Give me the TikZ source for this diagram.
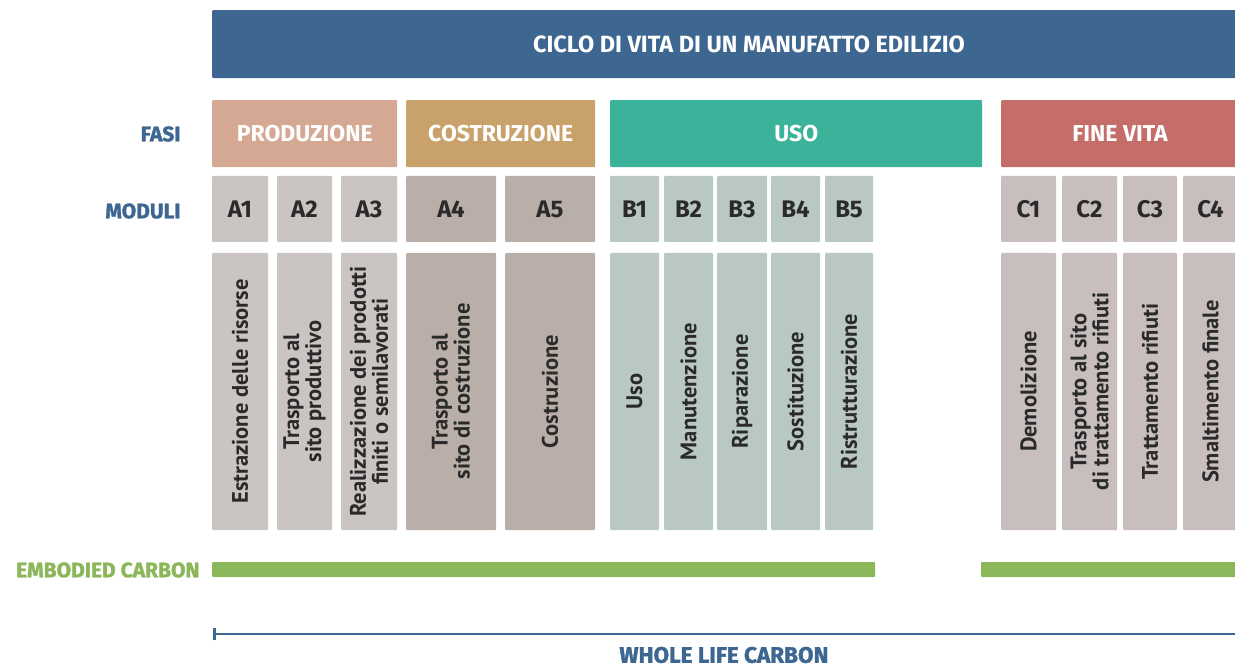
\documentclass[tikz,border=0pt]{standalone}
\usepackage{fontspec}
\usetikzlibrary{arrows.meta}
\setmainfont{PT Sans}
\newfontfamily\headfont{Fira Sans}
\newfontfamily\heavyfont{Fira Sans}[BoldFeatures={FakeBold=1.5}]
\definecolor{titleblue}{HTML}{3D6791}
\definecolor{prodcol}{HTML}{D5A893}
\definecolor{costrcol}{HTML}{C9A16B}
\definecolor{usocol}{HTML}{3AB39A}
\definecolor{finecol}{HTML}{C56E69}
\definecolor{modA}{HTML}{CAC5C3}
\definecolor{modAA}{HTML}{BAAFA8}
\definecolor{modB}{HTML}{B9C7C5}
\definecolor{modC}{HTML}{C8BEBE}
\definecolor{embgreen}{HTML}{8CB65A}
\definecolor{deftext}{HTML}{2A2A2A}
\tikzset{
  phasebox/.style={anchor=north west, minimum height=67pt, inner sep=0pt,
    rounded corners=1pt, text=white, font=\headfont\bfseries\fontsize{23}{23}\selectfont},
  modbox/.style={minimum height=66pt, inner sep=0pt, rounded corners=1pt,
    text=deftext, font=\headfont\bfseries\fontsize{24}{24}\selectfont},
  descbox/.style={rotate=90, minimum width=277pt, inner sep=0pt, rounded corners=1pt,
    align=center, text=deftext, font=\bfseries\fontsize{22.5}{22}\selectfont},
  rowlabel/.style={anchor=east, text=titleblue, font=\heavyfont\bfseries\fontsize{21}{21}\selectfont},
}
\begin{document}
\begin{tikzpicture}[x=1pt,y=-1pt]
  \useasboundingbox[fill=white] (0,0) rectangle (1235,668);
  % title
  \node[anchor=north west, fill=titleblue, minimum width=1030pt, minimum height=68pt,
    inner sep=0pt, rounded corners=1pt] (title) at (212,10) {};
  \node[text=white, font=\headfont\bfseries\fontsize{23.5}{23.5}\selectfont] (titletxt) at (749,44)
    {CICLO DI VITA DI UN MANUFATTO EDILIZIO};
  % phases
  \node[rowlabel] (fasi) at (184,134) {FASI};
  \node[phasebox, fill=prodcol, minimum width=185pt] (produzione) at (212,100) {PRODUZIONE};
  \node[phasebox, fill=costrcol, minimum width=189pt] (costruzione) at (406,100) {COSTRUZIONE};
  \node[phasebox, fill=usocol, minimum width=372pt] (uso) at (610,100) {USO};
  \node[phasebox, fill=finecol, minimum width=240pt] (finevita) at (1001,100) {};
  \node[text=white, font=\headfont\bfseries\fontsize{23}{23}\selectfont] (finetxt) at (1120,134) {FINE VITA};
  % modules
  \node[rowlabel] (moduli) at (184,211) {MODULI};
  \foreach \n/\c/\w/\col/\txt in {
      A1/240/56/modA/{Estrazione delle risorse},
      A2/304.5/55/modA/{Trasporto al\\sito produttivo},
      A3/369/56/modA/{Realizzazione dei prodotti\\finiti o semilavorati},
      A4/451/90/modAA/{Trasporto al\\sito di costruzione},
      A5/550/90/modAA/{Costruzione},
      B1/634.5/49/modB/{Uso},
      B2/688.5/49/modB/{Manutenzione},
      B3/742/50/modB/{Riparazione},
      B4/795.5/49/modB/{Sostituzione},
      B5/849/48/modB/{Ristrutturazione},
      C1/1028.5/55/modC/{Demolizione},
      C2/1089.5/55/modC/{Trasporto al sito\\di trattamento rifiuti},
      C3/1150/54/modC/{Trattamento rifiuti},
      C4/1210.5/55/modC/{Smaltimento finale}}{
    \node[modbox, fill=\col, minimum width=\w pt] (m\n) at (\c,209) {\n};
    \node[descbox, fill=\col, minimum height=\w pt] (d\n) at (\c,391.5) {\txt};
  }
  % embodied carbon
  \node[anchor=east, text=embgreen, font=\heavyfont\bfseries\fontsize{21}{21}\selectfont] (embodied) at (203,570) {EMBODIED CARBON};
  \fill[embgreen, rounded corners=1pt] (212,562) rectangle (875,577);
  \fill[embgreen, rounded corners=1pt] (981,562) rectangle (1240,577);
  % whole life carbon
  \coordinate (wlcL) at (213,634);
  \coordinate (wlcR) at (1240,634);
  \draw[titleblue, line width=2.5pt, {Bar[width=12pt]}-] (wlcL) -- (wlcR);
  \node[text=titleblue, inner sep=1pt, font=\heavyfont\bfseries\fontsize{22.5}{22.5}\selectfont] (wholelife) at (724,655) {WHOLE LIFE CARBON};
\end{tikzpicture}
\end{document}
